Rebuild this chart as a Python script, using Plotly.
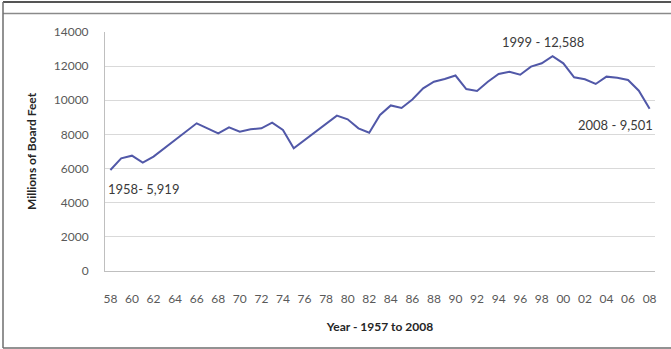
import plotly.graph_objects as go

# Annual volume, millions of board feet, 1958-2008
years = list(range(1958, 2009))
volume = [
    5919, 6600, 6756, 6346, 6700, 7186, 7674, 8201, 8650, 8357,
    8064, 8416, 8162, 8299, 8357, 8689, 8260, 7186, 7674, 8162,
    8611, 9099, 8884, 8357, 8103, 9138, 9700, 9550, 10050, 10700,
    11090, 11247, 11450, 10661, 10544, 11090, 11540, 11676, 11500, 11970,
    12165, 12588, 12165, 11345, 11228, 10955, 11385, 11325, 11188, 10563,
    9501,
]
tick_years = list(range(1958, 2009, 2))
tick_text = [f"{y % 100:02d}" for y in tick_years]
y_ticks = list(range(0, 14001, 2000))
y_tick_text = [str(v) for v in y_ticks]

callouts = [
    (1957.6, 4800, "1958- 5,919", "left"),
    (1998.1, 13414, "1999 - 12,588", "center"),
    (2004.8, 8552, "2008 - 9,501", "center"),
]

FONT = "Lato, 'Open Sans', sans-serif"

fig = go.Figure()
fig.add_trace(go.Scatter(
    x=years, y=volume, mode="lines",
    line=dict(color="#5158a8", width=2),
    hoverinfo="skip", showlegend=False,
))

for x, y, txt, anchor in callouts:
    fig.add_annotation(x=x, y=y, text=txt, showarrow=False,
                       xanchor=anchor, yanchor="middle",
                       font=dict(family=FONT, size=13, color="#3a3a3a"))

# chart frame
L, R, T, B = 105, 655, 32, 271
def px(x):
    return (x - L) / (R - L)
def py(y):
    return (B - y) / (B - T)

line_style = dict(color="#6e6e6e", width=1.5)
fig.add_shape(type="line", xref="paper", yref="paper",
              x0=px(3), x1=px(671), y0=py(2), y1=py(2), line=dict(color="#555555", width=2))
fig.add_shape(type="line", xref="paper", yref="paper",
              x0=px(3), x1=px(671), y0=py(13.5), y1=py(13.5), line=dict(color="#8a8a8a", width=1.5))
fig.add_shape(type="line", xref="paper", yref="paper",
              x0=px(3), x1=px(3), y0=py(2), y1=py(348), line=line_style)
fig.add_shape(type="line", xref="paper", yref="paper",
              x0=px(3), x1=px(671), y0=py(348), y1=py(348), line=line_style)

fig.update_layout(
    width=671, height=349,
    margin=dict(l=L, r=671 - R, t=T, b=349 - B),
    paper_bgcolor="white", plot_bgcolor="white",
    font=dict(family=FONT, size=12, color="#595959"),
    xaxis=dict(
        range=[1957.5, 2008.5], tickmode="array",
        tickvals=tick_years, ticktext=tick_text,
        showgrid=False, zeroline=False,
        showline=True, linecolor="#bfbfbf", linewidth=1,
        ticks="", ticklabelstandoff=17,
        tickfont=dict(size=12, color="#595959"),
        title=dict(text="<b>Year - 1957 to 2008</b>", standoff=17,
                   font=dict(size=12, color="#262626")),
    ),
    yaxis=dict(
        range=[0, 14000], tickmode="array",
        tickvals=y_ticks, ticktext=y_tick_text,
        showgrid=True, gridcolor="#d9d9d9", gridwidth=1,
        zeroline=False, showline=True, linecolor="#bfbfbf", linewidth=1,
        ticks="", ticklabelstandoff=13,
        tickfont=dict(size=12, color="#595959"),
        title=dict(text="<b>Millions of Board Feet</b>", standoff=14,
                   font=dict(size=12, color="#262626")),
    ),
)

fig.write_html("out.html")
